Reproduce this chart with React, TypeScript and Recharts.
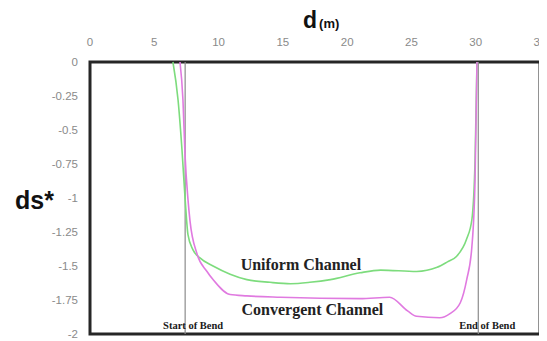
import {
  LineChart,
  Line,
  XAxis,
  YAxis,
  ReferenceLine,
  ReferenceArea,
  ReferenceDot,
} from 'recharts'

// bed-level profiles along the bend, d in metres
const uniformD = [
  6.45, 6.85, 7.15, 7.4, 7.62, 8.0, 8.55, 9.57, 10.9, 12.2, 14.0, 15.6, 17.1, 18.7, 21.0, 22.6,
  25.4, 27.0, 27.8, 28.5, 29.3, 29.7, 29.95, 30.1,
]
const uniformDs = [
  0, -0.28, -0.64, -1.01, -1.27, -1.38, -1.44, -1.5, -1.56, -1.6, -1.62, -1.63, -1.62, -1.6,
  -1.55, -1.53, -1.54, -1.51, -1.47, -1.43, -1.3, -1.16, -0.72, 0,
]

const convergentD = [
  7.0, 7.23, 7.39, 7.62, 7.78, 8.32, 9.1, 9.57, 10.9, 12.2, 14.8, 21.0, 23.3, 24.7, 25.4, 27.2,
  28.0, 28.8, 29.3, 29.7, 29.95, 30.1,
]
const convergentDs = [
  0, -0.28, -0.68, -1.01, -1.17, -1.41, -1.54, -1.6, -1.71, -1.72, -1.73, -1.74, -1.73, -1.83,
  -1.87, -1.88, -1.85, -1.77, -1.6, -1.36, -0.86, 0,
]

const bendStart = 7.4
const bendEnd = 30.2

const xTicks = [0, 5, 10, 15, 20, 25, 30, 35]
const yTicks = [0, -0.25, -0.5, -0.75, -1, -1.25, -1.5, -1.75, -2]

const uniformData = uniformD.map((d, i) => ({ d, ds: uniformDs[i] }))
const convergentData = convergentD.map((d, i) => ({ d, ds: convergentDs[i] }))

const tickStyle = { fontSize: 11.5, fill: '#8a8a8a', fontFamily: 'Liberation Sans, Arial' }
const serifBold = { fontFamily: 'Liberation Serif, Times New Roman', fontWeight: 700 }

export default function App() {
  return (
    <div style={{ position: 'relative', width: 539, height: 333 }}>
      <LineChart
        width={539}
        height={333}
        margin={{ top: 24, right: 7, bottom: 7, left: 32 }}
      >
        <XAxis
          dataKey="d"
          type="number"
          orientation="top"
          domain={[0, 35]}
          ticks={xTicks}
          height={30}
          axisLine={false}
          tickLine={false}
          tickSize={6}
          tickMargin={10}
          tick={tickStyle}
        />
        <YAxis
          type="number"
          domain={[-2, 0]}
          ticks={yTicks}
          width={50}
          axisLine={false}
          tickLine={false}
          tickSize={6}
          tickMargin={6}
          tick={tickStyle}
        />
        <ReferenceLine
          x={bendStart}
          stroke="#8c8c8c"
          strokeWidth={1.2}
          label={{
            value: 'Start of Bend',
            position: 'insideBottom',
            dx: 8,
            fontSize: 10.5,
            fill: '#1a1a1a',
            ...serifBold,
          }}
        />
        <ReferenceLine
          x={bendEnd}
          stroke="#8c8c8c"
          strokeWidth={1.2}
          label={{
            value: 'End of Bend',
            position: 'insideBottom',
            dx: 9,
            fontSize: 10.5,
            fill: '#1a1a1a',
            ...serifBold,
          }}
        />
        <Line
          data={uniformData}
          dataKey="ds"
          type="monotone"
          stroke="#7ddc7d"
          strokeWidth={1.6}
          dot={false}
          isAnimationActive={false}
        />
        <Line
          data={convergentData}
          dataKey="ds"
          type="monotone"
          stroke="#e07ae0"
          strokeWidth={1.6}
          dot={false}
          isAnimationActive={false}
        />
        <ReferenceDot
          x={16.4}
          y={-1.487}
          r={0}
          label={{ value: 'Uniform Channel', position: 'center', fontSize: 16, fill: '#222', ...serifBold }}
        />
        <ReferenceDot
          x={17.3}
          y={-1.817}
          r={0}
          label={{ value: 'Convergent Channel', position: 'center', fontSize: 16, fill: '#222', ...serifBold }}
        />
        <ReferenceArea x1={0} x2={35} y1={-2} y2={0} fill="none" stroke="#262626" strokeWidth={3} />
      </LineChart>
      <svg
        width={539}
        height={333}
        style={{ position: 'absolute', left: 0, top: 0, pointerEvents: 'none' }}
      >
        <text x={295} y={20} fontFamily="Liberation Sans, Arial" fontWeight={700} fill="#111">
          <tspan fontSize={23}>d</tspan>
          <tspan fontSize={13} dx={2}>(m)</tspan>
        </text>
        <text x={7} y={201} fontFamily="Liberation Sans, Arial" fontWeight={700} fontSize={25} fill="#111">
          ds*
        </text>
      </svg>
    </div>
  )
}
